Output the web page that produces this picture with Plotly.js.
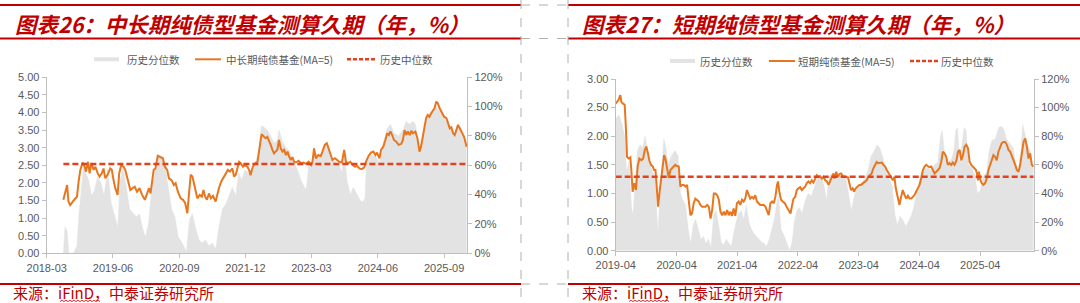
<!DOCTYPE html>
<html><head><meta charset="utf-8">
<script src="https://cdn.plot.ly/plotly-3.0.1.min.js"></script>
<style>html,body{margin:0;padding:0;background:#fff;overflow:hidden}#chart{width:1080px;height:303px;}</style>
</head><body><div id="chart"></div>
<script>
// ---------------- Left chart: 中长期纯债基金 ----------------
const L_dates = ["2018-06-24","2018-07-06","2018-07-20","2018-07-29","2018-08-10","2018-09-03","2018-09-26","2018-10-07","2018-10-19","2018-11-04","2018-11-18","2018-11-27","2018-12-11","2018-12-22","2019-01-03","2019-01-19","2019-01-31","2019-02-16","2019-03-01","2019-03-16","2019-03-28","2019-04-09","2019-04-25","2019-05-13","2019-05-24","2019-06-05","2019-06-17","2019-07-03","2019-07-14","2019-07-28","2019-08-13","2019-08-25","2019-09-13","2019-09-29","2019-10-15","2019-10-29","2019-11-14","2019-12-01","2019-12-19","2020-01-07","2020-01-23","2020-02-04","2020-02-15","2020-02-27","2020-03-08","2020-03-20","2020-04-05","2020-04-24","2020-05-10","2020-05-24","2020-06-09","2020-06-21","2020-07-09","2020-07-25","2020-08-06","2020-08-22","2020-09-10","2020-09-26","2020-10-10","2020-10-26","2020-11-07","2020-11-18","2020-11-30","2020-12-16","2021-01-03","2021-01-19","2021-02-03","2021-02-14","2021-02-26","2021-03-10","2021-03-24","2021-04-07","2021-04-21","2021-05-09","2021-05-20","2021-06-01","2021-06-17","2021-07-05","2021-07-17","2021-08-02","2021-08-16","2021-09-02","2021-09-13","2021-09-25","2021-10-06","2021-10-18","2021-10-29","2021-11-14","2021-11-28","2021-12-14","2021-12-26","2022-01-05","2022-01-20","2022-02-05","2022-02-22","2022-03-04","2022-03-15","2022-03-22","2022-04-08","2022-04-19","2022-05-01","2022-05-12","2022-05-24","2022-06-05","2022-06-16","2022-06-27","2022-07-09","2022-07-20","2022-08-01","2022-08-13","2022-08-25","2022-09-06","2022-09-17","2022-09-28","2022-10-10","2022-10-21","2022-11-02","2022-11-14","2022-12-02","2022-12-18","2023-01-04","2023-01-22","2023-02-10","2023-02-26","2023-03-08","2023-03-19","2023-03-31","2023-04-18","2023-05-04","2023-05-16","2023-06-01","2023-06-15","2023-06-27","2023-07-08","2023-07-24","2023-08-10","2023-08-24","2023-09-09","2023-09-27","2023-10-13","2023-10-25","2023-11-10","2023-11-24","2023-12-10","2023-12-26","2024-01-10","2024-01-26","2024-02-11","2024-02-29","2024-03-11","2024-03-27","2024-04-15","2024-05-01","2024-05-15","2024-05-26","2024-06-12","2024-06-23","2024-07-09","2024-07-23","2024-08-04","2024-08-16","2024-08-27","2024-09-08","2024-09-20","2024-10-06","2024-10-22","2024-11-10","2024-11-21","2024-12-02","2024-12-14","2024-12-25","2025-01-07","2025-01-18","2025-01-29","2025-02-15","2025-03-01","2025-03-15","2025-03-26","2025-04-07","2025-04-19","2025-04-30","2025-05-11","2025-05-23","2025-06-04","2025-06-16","2025-06-27","2025-07-09","2025-07-20","2025-08-01","2025-08-17","2025-09-01","2025-09-17","2025-09-28","2025-10-10","2025-10-21","2025-11-02","2025-11-13","2025-11-25","2025-12-06","2025-12-18","2026-01-03","2026-01-17","2026-02-03"];
const L_duration = [1.52,1.75,1.94,1.47,1.37,1.50,1.61,2.04,2.37,2.58,2.46,2.32,2.60,2.27,2.56,2.37,2.46,2.27,2.18,2.27,2.41,2.13,2.23,2.41,2.37,2.08,1.85,1.66,2.27,2.51,2.46,2.37,2.08,1.80,1.85,1.89,1.75,1.85,1.66,1.52,1.70,1.85,1.70,2.08,2.37,2.41,2.77,2.73,2.70,2.46,2.37,2.13,2.08,1.94,1.99,1.75,1.56,1.52,1.44,1.14,1.70,2.23,2.18,1.85,1.56,1.66,1.61,1.80,1.61,1.52,1.70,1.56,1.63,1.47,1.66,1.85,2.04,2.18,2.27,2.37,2.32,2.41,2.18,2.23,2.41,2.60,2.56,2.46,2.51,2.46,2.37,2.22,2.45,2.55,2.60,2.94,3.22,3.38,3.31,3.27,3.31,3.22,3.08,2.94,2.84,2.89,2.94,3.22,2.98,2.89,2.94,2.79,2.89,2.75,2.65,2.73,2.60,2.58,2.63,2.56,2.58,2.54,2.60,2.51,2.60,2.98,2.70,2.79,2.76,2.89,3.08,3.13,2.98,2.79,2.65,2.70,2.65,2.60,2.58,2.94,2.60,2.56,2.60,2.51,2.46,2.48,2.41,2.39,2.44,2.60,2.75,2.86,2.89,2.79,2.86,2.70,2.94,3.03,3.22,3.41,3.36,3.46,3.36,3.22,3.17,3.08,3.11,3.22,3.50,3.36,3.46,3.36,3.48,3.41,3.46,3.27,2.89,3.03,3.31,3.65,3.84,3.93,3.88,3.98,4.07,4.12,4.31,4.26,4.12,3.98,3.88,3.84,3.69,3.55,3.58,3.41,3.36,3.50,3.65,3.55,3.41,3.31,3.03];
const L_pctDates = ["2018-06-24","2018-06-28","2018-07-05","2018-07-20","2018-08-01","2018-09-01","2018-09-25","2018-10-10","2018-10-25","2018-11-10","2018-11-25","2018-12-15","2019-01-05","2019-01-25","2019-02-15","2019-03-10","2019-04-01","2019-04-25","2019-05-20","2019-06-15","2019-07-05","2019-07-20","2019-08-10","2019-09-01","2019-09-25","2019-10-20","2019-11-10","2019-12-01","2019-12-20","2020-01-10","2020-02-01","2020-02-25","2020-03-20","2020-04-15","2020-05-05","2020-05-25","2020-06-20","2020-07-10","2020-08-01","2020-08-25","2020-09-20","2020-10-20","2020-11-10","2020-11-30","2020-12-20","2021-01-15","2021-02-05","2021-03-01","2021-03-25","2021-04-15","2021-05-10","2021-06-01","2021-06-25","2021-07-20","2021-08-10","2021-09-01","2021-09-25","2021-10-15","2021-11-05","2021-11-28","2021-12-20","2022-01-10","2022-02-01","2022-03-01","2022-03-20","2022-04-08","2022-05-01","2022-05-24","2022-06-16","2022-07-09","2022-07-20","2022-08-13","2022-09-06","2022-09-28","2022-10-21","2022-11-14","2022-12-02","2022-12-18","2023-01-04","2023-01-22","2023-02-01","2023-02-10","2023-03-08","2023-03-19","2023-04-18","2023-05-16","2023-06-15","2023-07-08","2023-08-10","2023-09-09","2023-09-27","2023-10-13","2023-11-01","2023-11-24","2023-12-15","2024-01-10","2024-02-01","2024-02-20","2024-03-05","2024-03-15","2024-04-15","2024-05-15","2024-06-12","2024-07-09","2024-08-04","2024-08-27","2024-09-20","2024-10-22","2024-11-21","2024-12-14","2025-01-07","2025-01-29","2025-02-15","2025-03-15","2025-04-07","2025-04-30","2025-05-23","2025-06-16","2025-07-09","2025-08-01","2025-09-01","2025-09-28","2025-10-21","2025-11-13","2025-12-06","2025-12-25","2026-01-17","2026-02-03"];
const L_pct = [0,10,18,15,0,0,5,27,45,59,55,50,39,43,52,48,39,57,34,25,18,50,59,45,30,27,25,27,18,11,20,45,57,67,66,59,41,30,25,11,7,1,23,27,18,9,7,9,5,7,3,18,30,34,39,45,39,55,50,57,55,57,59,70,87,86,84,80,75,77,84,76,72,70,65,59,55,50,47,43,50,61,62,72,65,70,75,66,63,60,55,70,50,40,45,40,36,35,38,62,67,66,62,75,85,88,82,80,84,90,88,90,88,70,82,92,95,98,100,97,92,88,85,80,88,86,80,72];
const L_median = 2.54;
const L_ticks = ["2018-03-01","2019-06-01","2020-09-01","2021-12-01","2023-03-01","2024-06-01","2025-09-01"];

// ---------------- Right chart: 短期纯债基金 ----------------
const R_dates = ["2019-04-01","2019-04-09","2019-04-19","2019-04-29","2019-05-05","2019-05-15","2019-05-25","2019-06-02","2019-06-08","2019-06-18","2019-06-28","2019-07-04","2019-07-12","2019-07-22","2019-08-01","2019-08-11","2019-08-21","2019-09-03","2019-09-13","2019-09-23","2019-10-02","2019-10-12","2019-10-20","2019-10-30","2019-11-10","2019-11-18","2019-11-26","2019-12-02","2019-12-12","2019-12-22","2020-01-01","2020-01-09","2020-01-17","2020-01-25","2020-02-04","2020-02-14","2020-02-24","2020-03-04","2020-03-14","2020-03-24","2020-04-04","2020-04-14","2020-04-24","2020-05-04","2020-05-14","2020-05-24","2020-06-03","2020-06-13","2020-06-23","2020-07-03","2020-07-13","2020-07-23","2020-08-02","2020-08-12","2020-08-22","2020-09-02","2020-09-12","2020-09-22","2020-10-02","2020-10-12","2020-10-22","2020-11-01","2020-11-11","2020-11-21","2020-12-01","2020-12-11","2020-12-21","2020-12-31","2021-01-10","2021-01-20","2021-01-30","2021-02-09","2021-02-19","2021-03-01","2021-03-10","2021-03-20","2021-03-30","2021-04-09","2021-04-19","2021-04-29","2021-05-09","2021-05-19","2021-05-29","2021-06-08","2021-06-18","2021-06-28","2021-07-08","2021-07-18","2021-07-28","2021-08-07","2021-08-17","2021-08-27","2021-09-07","2021-09-17","2021-09-27","2021-10-07","2021-10-17","2021-10-27","2021-11-06","2021-11-16","2021-11-26","2021-12-02","2021-12-10","2021-12-20","2021-12-30","2022-01-12","2022-01-22","2022-02-05","2022-02-15","2022-02-25","2022-03-05","2022-03-15","2022-03-25","2022-04-04","2022-04-14","2022-04-24","2022-05-14","2022-05-24","2022-06-03","2022-06-13","2022-06-23","2022-07-03","2022-07-13","2022-07-23","2022-08-03","2022-08-13","2022-08-23","2022-09-02","2022-09-12","2022-09-22","2022-10-02","2022-10-12","2022-10-22","2022-11-01","2022-11-07","2022-11-17","2022-11-27","2022-12-07","2022-12-17","2022-12-27","2023-01-07","2023-01-17","2023-01-27","2023-02-04","2023-02-14","2023-02-24","2023-03-04","2023-03-14","2023-03-26","2023-04-05","2023-04-15","2023-04-29","2023-05-09","2023-05-19","2023-05-29","2023-06-08","2023-06-18","2023-06-28","2023-07-08","2023-07-18","2023-07-28","2023-08-08","2023-08-18","2023-08-28","2023-09-07","2023-09-17","2023-09-27","2023-10-07","2023-10-17","2023-10-23","2023-11-02","2023-11-10","2023-11-22","2023-12-02","2023-12-12","2023-12-22","2024-01-02","2024-01-12","2024-01-22","2024-02-01","2024-02-11","2024-02-21","2024-03-01","2024-03-11","2024-03-21","2024-04-01","2024-04-11","2024-04-21","2024-05-01","2024-05-11","2024-05-20","2024-05-30","2024-06-10","2024-06-20","2024-06-30","2024-07-10","2024-07-20","2024-07-30","2024-08-09","2024-08-19","2024-08-29","2024-09-08","2024-09-18","2024-09-28","2024-10-08","2024-10-18","2024-10-28","2024-11-08","2024-11-18","2024-11-28","2024-12-08","2024-12-18","2024-12-28","2025-01-07","2025-01-17","2025-01-27","2025-02-06","2025-02-16","2025-02-26","2025-03-06","2025-03-12","2025-03-18","2025-03-24","2025-04-02","2025-04-10","2025-04-20","2025-04-30","2025-05-10","2025-05-20","2025-05-30","2025-06-09","2025-06-19","2025-06-29","2025-07-09","2025-07-19","2025-07-29","2025-08-08","2025-08-18","2025-08-28","2025-09-08","2025-09-18","2025-09-28","2025-10-08","2025-10-18","2025-10-28","2025-11-07","2025-11-17","2025-11-27","2025-12-07","2025-12-17","2025-12-27","2026-01-06","2026-01-16","2026-01-26","2026-02-05","2026-02-15"];
const R_duration = [2.57,2.60,2.64,2.72,2.60,2.57,2.55,2.11,1.64,1.61,1.63,1.41,1.03,1.18,1.06,1.47,1.61,1.58,1.61,1.76,1.82,1.70,1.58,1.50,1.47,1.41,1.41,1.18,0.77,1.06,1.29,1.41,1.67,1.61,1.41,1.27,1.41,1.44,1.47,1.50,1.48,1.47,1.12,1.15,1.15,1.12,1.15,0.83,0.62,0.65,0.83,0.91,0.89,0.86,0.80,0.77,0.77,0.77,0.80,0.77,0.56,0.71,1.00,1.00,0.97,0.89,0.68,0.62,0.68,0.62,0.71,0.62,0.68,0.61,0.74,0.61,0.83,0.86,0.80,0.89,0.86,0.91,1.06,1.00,0.91,0.94,0.91,0.97,0.86,0.83,0.80,0.80,0.80,0.77,0.71,0.62,0.83,0.86,0.83,0.94,1.15,1.21,1.03,0.89,0.86,0.83,0.77,0.71,0.65,0.80,0.91,0.94,1.06,1.09,1.11,1.06,1.12,1.18,1.21,1.18,1.23,1.19,1.26,1.32,1.29,1.30,1.26,1.29,1.23,1.21,1.15,1.23,1.29,1.35,1.26,1.38,1.29,1.34,1.35,1.30,1.29,1.29,1.28,1.18,1.06,1.09,1.03,1.09,1.12,1.15,1.15,1.18,1.21,1.23,1.29,1.32,1.35,1.44,1.50,1.55,1.53,1.54,1.54,1.50,1.47,1.41,1.35,1.29,1.26,1.23,1.29,1.09,0.94,0.80,0.94,1.06,0.97,0.91,0.96,0.91,0.91,0.94,0.97,1.03,1.09,1.15,1.26,1.41,1.47,1.50,1.48,1.46,1.47,1.41,1.35,1.38,1.41,1.44,1.55,1.73,1.70,1.64,1.50,1.53,1.50,1.54,1.50,1.57,1.73,1.76,1.58,1.67,1.82,1.85,1.79,1.55,1.50,1.47,1.44,1.41,1.35,1.23,1.38,1.23,1.18,1.15,1.18,1.26,1.41,1.50,1.61,1.67,1.64,1.58,1.73,1.82,1.88,1.90,1.90,1.85,1.76,1.73,1.67,1.58,1.50,1.41,1.38,1.50,1.70,1.90,1.96,1.82,1.61,1.70,1.50,1.47,1.18];
const R_pctDates = ["2019-04-01","2019-04-20","2019-05-10","2019-05-25","2019-06-05","2019-06-20","2019-07-05","2019-07-15","2019-07-25","2019-08-10","2019-08-25","2019-09-10","2019-09-25","2019-10-10","2019-10-25","2019-11-10","2019-11-25","2019-12-10","2019-12-20","2020-01-05","2020-01-15","2020-01-28","2020-02-10","2020-02-25","2020-03-10","2020-03-25","2020-04-10","2020-04-25","2020-05-10","2020-05-25","2020-06-10","2020-06-25","2020-07-10","2020-07-25","2020-08-10","2020-08-25","2020-09-10","2020-09-25","2020-10-10","2020-10-25","2020-11-10","2020-11-25","2020-12-10","2020-12-25","2021-01-10","2021-01-25","2021-02-10","2021-02-25","2021-03-10","2021-03-25","2021-04-10","2021-04-25","2021-05-10","2021-05-25","2021-06-10","2021-06-25","2021-07-10","2021-07-25","2021-08-10","2021-08-25","2021-09-10","2021-09-25","2021-10-10","2021-10-25","2021-11-10","2021-11-25","2021-12-05","2021-12-20","2022-01-10","2022-01-25","2022-02-10","2022-02-25","2022-03-10","2022-03-25","2022-04-10","2022-04-25","2022-05-15","2022-06-01","2022-06-20","2022-07-10","2022-07-25","2022-08-10","2022-08-25","2022-09-05","2022-09-20","2022-10-05","2022-10-25","2022-11-15","2022-12-05","2022-12-25","2023-01-15","2023-01-30","2023-02-15","2023-03-05","2023-03-25","2023-04-15","2023-05-05","2023-05-25","2023-06-15","2023-07-05","2023-07-20","2023-08-05","2023-08-25","2023-09-15","2023-10-05","2023-10-20","2023-11-05","2023-11-20","2023-12-05","2023-12-20","2024-01-10","2024-01-25","2024-02-10","2024-02-25","2024-03-10","2024-03-25","2024-04-10","2024-05-01","2024-05-20","2024-06-10","2024-06-30","2024-07-20","2024-08-05","2024-08-15","2024-09-01","2024-09-20","2024-10-10","2024-10-25","2024-11-05","2024-11-15","2024-11-28","2024-12-10","2024-12-25","2025-01-05","2025-01-20","2025-02-10","2025-03-01","2025-03-15","2025-04-01","2025-04-20","2025-05-10","2025-05-25","2025-06-10","2025-06-30","2025-07-20","2025-08-05","2025-08-20","2025-09-05","2025-09-25","2025-10-15","2025-10-30","2025-11-15","2025-12-01","2025-12-12","2025-12-25","2026-01-10","2026-01-25","2026-02-15"];
const R_pct = [92,95,88,80,55,62,30,25,45,70,74,72,80,70,60,55,50,12,30,55,78,72,60,65,68,70,66,40,35,32,15,5,18,22,15,8,10,5,8,2,25,28,18,6,4,8,5,3,12,20,26,28,22,32,20,15,12,10,8,6,5,3,8,15,22,33,38,15,10,5,0,6,20,28,30,26,35,40,38,45,50,52,50,45,35,52,54,50,53,52,50,40,28,38,45,47,50,55,66,70,74,72,65,55,49,45,25,18,24,22,17,20,24,30,38,45,55,57,58,56,60,62,80,84,65,62,64,70,84,86,62,72,86,84,60,58,52,40,42,52,55,70,77,78,86,87,85,78,75,72,62,55,70,88,82,74,70,56];
const R_median = 1.29;
const R_ticks = ["2019-04-01","2020-04-01","2021-04-01","2022-04-01","2023-04-01","2024-04-01","2025-04-01"];

// percent axis ticks
const pctTickVals = [0, 20, 40, 60, 80, 100, 120];
const pctTickText = ["0%", "20%", "40%", "60%", "80%", "100%", "120%"];

// ---------------- Text ----------------
const titleL = "图表26：中长期纯债型基金测算久期（年，%）";
const titleR = "图表27：短期纯债型基金测算久期（年，%）";
const legPct = "历史分位数";
const legL = "中长期纯债基金(MA=5)";
const legR = "短期纯债基金(MA=5)";
const legMed = "历史中位数";
const source = "来源：iFinD，中泰证券研究所";

// ---------------- Styling / layout helpers ----------------
const W = 1080, H = 303;
const px = x => x / W, py = y => 1 - y / H;
const ORANGE = "#e8761e", MED = "#e2431e", GRAY = "#e3e3e3", RED = "#c00000";
const AX = "#bfbfbf", TXT = "#595959";
const tickFont = {family: "Liberation Sans, Arial, sans-serif", size: 11, color: TXT};
const cjk = "Noto Sans CJK SC, sans-serif";

const traces = [
  {x: L_pctDates, y: L_pct, xaxis: "x", yaxis: "y2", type: "scatter", mode: "lines",
   fill: "tozeroy", fillcolor: GRAY, line: {width: 0.5, color: GRAY}, hoverinfo: "skip"},
  {x: L_dates, y: L_duration, xaxis: "x", yaxis: "y", type: "scatter", mode: "lines",
   line: {width: 2, color: ORANGE}},
  {x: [L_dates[0], L_dates[L_dates.length - 1]], y: [L_median, L_median], xaxis: "x", yaxis: "y",
   type: "scatter", mode: "lines", line: {width: 2.5, color: MED, dash: "6px,3px"}},
  {x: R_pctDates, y: R_pct, xaxis: "x2", yaxis: "y4", type: "scatter", mode: "lines",
   fill: "tozeroy", fillcolor: GRAY, line: {width: 0.5, color: GRAY}, hoverinfo: "skip"},
  {x: R_dates, y: R_duration, xaxis: "x2", yaxis: "y3", type: "scatter", mode: "lines",
   line: {width: 2, color: ORANGE}},
  {x: [R_dates[0], R_dates[R_dates.length - 1]], y: [R_median, R_median], xaxis: "x2", yaxis: "y3",
   type: "scatter", mode: "lines", line: {width: 2.5, color: MED, dash: "6px,3px"}}
];

const axBase = {showline: true, linecolor: AX, linewidth: 1, ticks: "outside", ticklen: 4,
  tickcolor: AX, tickfont: tickFont, showgrid: false, zeroline: false, fixedrange: true};

const layout = {
  width: W, height: H, margin: {l: 0, r: 0, t: 0, b: 0}, showlegend: false,
  paper_bgcolor: "#fff", plot_bgcolor: "rgba(0,0,0,0)",
  xaxis: Object.assign({}, axBase, {domain: [px(46.7), px(467.3)], anchor: "y2", type: "date",
    range: ["2018-03-01", "2026-02-08"], tickvals: L_ticks, tickformat: "%Y-%m"}),
  yaxis2: Object.assign({}, axBase, {domain: [py(253.3), py(77.3)], anchor: "x", side: "right",
    range: [0, 120], tickmode: "array", tickvals: pctTickVals, ticktext: pctTickText}),
  yaxis: Object.assign({}, axBase, {overlaying: "y2", anchor: "x", side: "left",
    range: [0, 5], tickvals: [0, 0.5, 1, 1.5, 2, 2.5, 3, 3.5, 4, 4.5, 5], tickformat: ".2f"}),
  xaxis2: Object.assign({}, axBase, {domain: [px(615.7), px(1034)], anchor: "y4", type: "date",
    range: ["2019-04-01", "2026-02-18"], tickvals: R_ticks, tickformat: "%Y-%m"}),
  yaxis4: Object.assign({}, axBase, {domain: [py(250.7), py(79)], anchor: "x2", side: "right",
    range: [0, 120], tickmode: "array", tickvals: pctTickVals, ticktext: pctTickText}),
  yaxis3: Object.assign({}, axBase, {overlaying: "y4", anchor: "x2", side: "left",
    range: [0, 3], tickvals: [0, 0.5, 1, 1.5, 2, 2.5, 3], tickformat: ".2f"}),
  shapes: [],
  annotations: []
};

function hline(x0, x1, y, color, width, dash) {
  layout.shapes.push({type: "line", xref: "paper", yref: "paper", x0: px(x0), x1: px(x1),
    y0: py(y), y1: py(y), line: {color: color, width: width, dash: dash || "solid"}});
}
function vline(x, y0, y1, color, width, dash) {
  layout.shapes.push({type: "line", xref: "paper", yref: "paper", x0: px(x), x1: px(x),
    y0: py(y0), y1: py(y1), line: {color: color, width: width, dash: dash || "solid"}});
}
function text(t, x, y, font, anchor) {
  layout.annotations.push({text: t, xref: "paper", yref: "paper", x: px(x), y: py(y),
    xanchor: anchor || "left", yanchor: "middle", showarrow: false, font: font});
}
function wavy(x0, x1, y) {
  let d = "M" + px(x0) + "," + py(y);
  let up = true;
  for (let x = x0 + 2; x <= x1; x += 2) { d += " L" + px(x) + "," + py(y + (up ? -1.2 : 0)); up = !up; }
  layout.shapes.push({type: "path", xref: "paper", yref: "paper", path: d, line: {color: RED, width: 0.8}});
}

// frame lines
[5, 38.5, 284].forEach(y => { hline(0, 521, y, RED, 2); hline(568, 1080, y, RED, 2); hline(521, 568, y, "#b0b0b0", 1, "dash"); });
vline(521, 0, 303, "#b0b0b0", 1, "dash");
vline(568, 0, 303, "#b0b0b0", 1, "dash");

// titles
const titleFont = {family: cjk, size: 21.5, color: RED, weight: 700, style: "italic"};
text(titleL, 13, 23.5, titleFont);
text(titleR, 580, 23.5, titleFont);

// legends
const legFont = {family: cjk, size: 10.5, color: TXT};
function legend(y, gx0, tPct, ox0, tLine, lineLabel, dx0, tMed) {
  layout.shapes.push({type: "rect", xref: "paper", yref: "paper", x0: px(gx0), x1: px(gx0 + 25),
    y0: py(y + 2), y1: py(y - 2), fillcolor: GRAY, line: {width: 0}});
  text(legPct, tPct, y, legFont);
  hline(ox0, ox0 + 26, y, ORANGE, 2);
  text(lineLabel, tLine, y, legFont);
  hline(dx0, dx0 + 29, y, MED, 2.5, "4px,2px");
  text(legMed, tMed, y, legFont);
}
legend(59.3, 94, 125, 195, 224, legL, 347, 378);
legend(61, 670, 698, 769, 796, legR, 910, 939);

// sources
const srcFont = {family: cjk, size: 15, color: RED};
text(source, 11, 292, srcFont);
text(source, 580, 292, srcFont);
wavy(60, 100, 301.5);
wavy(629, 669, 301.5);

Plotly.newPlot("chart", traces, layout, {displayModeBar: false, staticPlot: true});
</script>
</body></html>
